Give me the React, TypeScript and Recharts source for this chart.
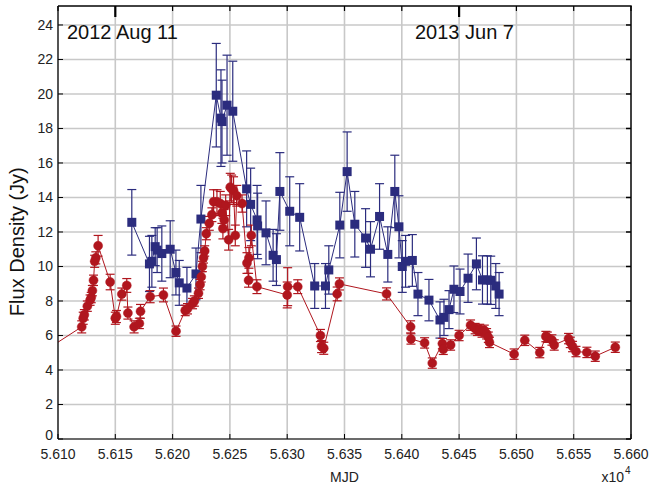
import React from 'react';
import { LineChart, Line, XAxis, YAxis, CartesianGrid, ErrorBar } from 'recharts';

const RED = '#B0161E';
const BLUE = '#2B2C7E';
const FONT = '"Liberation Sans", Arial, Helvetica, sans-serif';

// Red series (circles): MJD, flux (Jy), error
const redMJD = [56060, 56120.7, 56122, 56123, 56125.6, 56128, 56129, 56130, 56131, 56132, 56133, 56135,
  56145.5, 56150, 56151, 56155.7, 56160, 56161, 56166.4, 56171, 56172, 56180.4, 56192, 56203,
  56211, 56213, 56217.4, 56219, 56222.6, 56224, 56225, 56226, 56227, 56228, 56229.4, 56232, 56234.3,
  56235.8, 56238.7, 56241.6, 56243, 56243.9, 56245, 56246.3, 56248.9, 56250.3, 56251.5, 56253.2,
  56254.7, 56256, 56260.6, 56264.9, 56266.3, 56266.6, 56268.7, 56273.6, 56300, 56300.4, 56309.2,
  56329, 56330, 56331.9, 56343.6, 56345.6, 56386.7, 56407.7, 56408, 56419.9, 56426.6, 56435.4,
  56436.2, 56442.6, 56450, 56460, 56464, 56466, 56468, 56470, 56472, 56474, 56475.5, 56476.5,
  56498, 56507.3, 56520.4, 56525.7, 56527, 56531, 56533, 56545.5, 56547, 56549, 56552, 56561.5,
  56568.8, 56586.3];
const redFlux = [3.9, 6.5, 7.0, 7.2, 7.7, 8.05, 8.2, 8.6, 9.2, 10.3, 10.5, 11.2,
  9.1, 7.0, 7.1, 8.4, 8.9, 7.3, 6.5, 6.7, 7.4, 8.25, 8.35, 6.25,
  7.45, 7.55, 7.85, 8.0, 8.45, 8.95, 9.4, 10.0, 10.5, 10.9, 11.9, 12.5, 13.0,
  13.75, 13.75, 13.65, 13.1, 12.2, 12.7, 13.55, 11.55, 14.6, 14.5, 14.4,
  11.8, 14.1, 13.65, 10.2, 9.2, 10.5, 11.8, 8.83, 8.35, 8.83, 8.83,
  6.0, 5.36, 5.26, 8.41, 8.99, 8.41, 6.5, 5.8, 5.57, 4.4, 5.53,
  5.2, 5.45, 6.0, 6.6, 6.4, 6.3, 6.35, 6.2, 6.3, 6.1, 5.9, 5.6,
  4.92, 5.72, 5.01, 5.94, 5.9, 5.74, 5.45, 5.82, 5.6, 5.36, 5.07, 5.02,
  4.8, 5.32];
const redErr = [null, 0.35, 0.35, 0.3, 0.3, 0.3, 0.3, 0.3, 0.3, 0.35, 0.35, 0.6,
  0.45, 0.35, 0.35, 0.35, 0.4, 0.35, 0.35, 0.3, 0.4, 0.35, 0.4, 0.3,
  0.3, 0.3, 0.3, 0.3, 0.3, 0.3, 0.3, 0.3, 0.3, 0.3, 0.35, 0.4, 0.4,
  0.7, 0.7, 0.7, 0.6, 0.6, 0.6, 0.6, 0.6, 0.8, 0.8, 0.8,
  0.6, 0.6, 0.5, 0.6, 0.4, 0.6, 0.6, 0.4, 0.75, 1.1, 0.4,
  0.35, 0.35, 0.35, 0.4, 0.35, 0.35, 0.35, 0.3, 0.3, 0.3, 0.3,
  0.3, 0.3, 0.3, 0.3, 0.3, 0.3, 0.3, 0.3, 0.3, 0.3, 0.3, 0.3,
  0.3, 0.3, 0.3, 0.3, 0.3, 0.3, 0.3, 0.3, 0.3, 0.3, 0.3, 0.3,
  0.3, 0.3];

// Blue series (squares)
const blueMJD = [56164.4, 56179.8, 56181.9, 56184.8, 56186.5, 56190.6, 56197.9, 56202.9, 56205.8, 56212.5,
  56220.4, 56224.7, 56238.1, 56242.2, 56243.1, 56247.5, 56252.5, 56264.6, 56268.1, 56273.7, 56274.2,
  56281.5, 56287.7, 56290.6, 56293.6, 56302.2, 56310.9, 56324, 56333.4, 56336.3, 56345.9, 56352.3,
  56359, 56368.4, 56372.7, 56380.6, 56387.8, 56393.9, 56397.5, 56400.4, 56403.3, 56409.2, 56414.1,
  56423.7, 56433.3, 56436.8, 56441.2, 56445.5, 56450.8, 56457.8, 56465.1, 56470.4, 56474.7, 56477.6,
  56482, 56484.9];
const blueFlux = [12.56, 10.15, 10.3, 11.15, 10.95, 10.75, 11.0, 9.65, 9.05, 8.75,
  9.57, 12.75, 19.93, 18.6, 18.4, 19.35, 19.0, 14.5, 13.6, 12.7, 12.35,
  11.95, 10.65, 10.4, 14.35, 13.2, 12.85, 8.87, 8.87, 9.8, 12.4, 15.5,
  12.45, 11.65, 11.0, 12.9, 10.7, 14.35, 12.3, 10.0, 10.3, 10.35, 8.4,
  8.05, 6.9, 7.05, 7.5, 8.68, 8.55, 9.32, 10.15, 9.22, 9.22, 9.2,
  8.87, 8.4];
const blueErr = [1.9, 1.6, 1.5, 1.1, 1.3, 1.6, 1.65, 1.3, 1.3, 1.2,
  1.5, 1.95, 3.0, 2.8, 2.4, 2.9, 2.9, 2.2, 2.1, 2.0, 1.9,
  1.85, 1.5, 1.5, 2.25, 2.0, 1.95, 1.3, 1.3, 1.4, 1.9, 2.3,
  1.9, 1.7, 1.6, 1.9, 1.6, 2.1, 1.8, 1.5, 1.5, 1.5, 1.25,
  1.2, 1.05, 1.05, 1.1, 1.35, 1.3, 1.4, 1.5, 1.4, 1.4, 1.4,
  1.3, 1.25];

const xTicks = [56100, 56150, 56200, 56250, 56300, 56350, 56400, 56450, 56500, 56550, 56600];
const yTicks = [0, 2, 4, 6, 8, 10, 12, 14, 16, 18, 20, 22, 24];
const markerDates = [56150, 56450];
const annotations = ['2012 Aug 11', '2013 Jun 7'];

const X_MIN = 56100;
const X_MAX = 56600;
const Y_MIN = 0;
const Y_MAX = 25.1;

const redData = redMJD.map((m, i) => ({ mjd: m, flux: redFlux[i], err: redErr[i] }));
const blueData = blueMJD.map((m, i) => ({ mjd: m, flux: blueFlux[i], err: blueErr[i] }));

const TOP = 6;
const BOTTOM = 439;
const LEFT = 58;
const RIGHT = 631;

// frame-tick helpers (axis decoration only)
const tickX = (v: number) => LEFT + ((v - X_MIN) / (X_MAX - X_MIN)) * (RIGHT - LEFT);
const tickY = (v: number) => BOTTOM - ((v - Y_MIN) / (Y_MAX - Y_MIN)) * (BOTTOM - TOP);

const BottomTick = (props: any) => {
  const { x, payload } = props;
  return (
    <g>
      <line x1={x} y1={BOTTOM} x2={x} y2={BOTTOM - 5} stroke="#000" strokeWidth={1} />
      <text x={x} y={459} textAnchor="middle" fontSize={14} fontFamily={FONT} fill="#222">
        {(payload.value / 10000).toFixed(3)}
      </text>
    </g>
  );
};

const LeftTick = (props: any) => {
  const { y, payload } = props;
  return (
    <g>
      <line x1={LEFT} y1={y} x2={LEFT + 5} y2={y} stroke="#000" strokeWidth={1} />
      <text x={53} y={y + 5 - (payload.value === 0 ? 4 : 0)} textAnchor="end" fontSize={14} fontFamily={FONT} fill="#222">
        {payload.value}
      </text>
    </g>
  );
};

const redDot = (props: any) => {
  const { cx, cy, index, payload } = props;
  if (payload.mjd < X_MIN || cx == null) return <g key={`r${index}`} />;
  return <circle key={`r${index}`} cx={cx} cy={cy} r={4.5} fill={RED} stroke={RED} strokeWidth={0.5} />;
};

const blueDot = (props: any) => {
  const { cx, cy, index } = props;
  if (cx == null) return <g key={`b${index}`} />;
  return <rect key={`b${index}`} x={cx - 4.5} y={cy - 4.5} width={9} height={9} fill={BLUE} />;
};

export default function App() {
  return (
    <div style={{ position: 'absolute', left: 0, top: 0, width: 649, height: 489, background: '#fff' }}>
      <LineChart width={649} height={489} margin={{ top: TOP, right: 649 - RIGHT, bottom: 0, left: 0 }}>
        <CartesianGrid stroke="#c8c8c8" strokeWidth={1.6} />
        <XAxis dataKey="mjd" type="number" domain={[X_MIN, X_MAX]} ticks={xTicks}
          allowDataOverflow height={489 - BOTTOM} tickLine={false}
          axisLine={{ stroke: '#000', strokeWidth: 1.2 }} tick={BottomTick} interval={0} />
        <YAxis type="number" domain={[Y_MIN, Y_MAX]} ticks={yTicks} allowDataOverflow width={LEFT}
          tickLine={false} axisLine={{ stroke: '#000', strokeWidth: 1.2 }} tick={LeftTick} interval={0} />
        <Line data={blueData} dataKey="flux" stroke={BLUE} strokeWidth={1}
          dot={blueDot} activeDot={false} isAnimationActive={false}>
          <ErrorBar dataKey="err" width={4.5} stroke={BLUE} strokeWidth={1.2} direction="y" />
        </Line>
        <Line data={redData} dataKey="flux" stroke={RED} strokeWidth={1}
          dot={redDot} activeDot={false} isAnimationActive={false}>
          <ErrorBar dataKey="err" width={4.5} stroke={RED} strokeWidth={1.2} direction="y" />
        </Line>
      </LineChart>
      <svg width={649} height={489} style={{ position: 'absolute', left: 0, top: 0, pointerEvents: 'none' }}>
        <line x1={LEFT} y1={TOP} x2={RIGHT + 0.75} y2={TOP} stroke="#111" strokeWidth={1.5} />
        <line x1={RIGHT} y1={TOP} x2={RIGHT} y2={BOTTOM} stroke="#111" strokeWidth={1.5} />
        {xTicks.map((t) => {
          const mark = markerDates.includes(t);
          return (
            <line key={`tx${t}`} x1={tickX(t)} y1={TOP} x2={tickX(t)} y2={TOP + (mark ? 11 : 5)}
              stroke="#000" strokeWidth={mark ? 2.2 : 1.2} />
          );
        })}
        {yTicks.map((t) => (
          <line key={`ty${t}`} x1={RIGHT - 5} y1={tickY(t)} x2={RIGHT} y2={tickY(t)} stroke="#000" strokeWidth={1.5} />
        ))}
        <text x={67} y={38.5} fontSize={20} fontFamily={FONT} fill="#111">{annotations[0]}</text>
        <text x={415} y={38.5} fontSize={20} fontFamily={FONT} fill="#111">{annotations[1]}</text>
        <text x={24} y={241.7} transform="rotate(-90 24 241.7)" textAnchor="middle" fontSize={20} fontFamily={FONT} fill="#111">Flux Density (Jy)</text>
        <text x={344.5} y={481.7} textAnchor="middle" fontSize={14} fontFamily={FONT} fill="#222">MJD</text>
        <text x={601.5} y={481.7} fontSize={14} fontFamily={FONT} fill="#222">x10</text>
        <text x={625} y={474} fontSize={10} fontFamily={FONT} fill="#222">4</text>
      </svg>
    </div>
  );
}
